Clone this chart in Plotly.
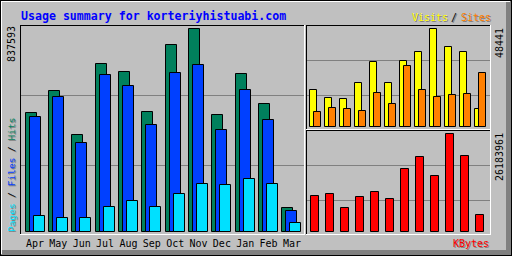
import plotly.graph_objects as go

months = ["Apr", "May", "Jun", "Jul", "Aug", "Sep", "Oct", "Nov", "Dec", "Jan", "Feb", "Mar"]
hits = [489750, 581780, 399000, 693180, 660170, 493900, 771580, 837593, 481520, 651910, 528140, 99030]
files = [473250, 557020, 365970, 647800, 602400, 440250, 656030, 689070, 420860, 585910, 462110, 86650]
pages = [64780, 56530, 56530, 101920, 127910, 101920, 156790, 198050, 193920, 218690, 198050, 37130]
visits = [18289, 14186, 13692, 21749, 32130, 21749, 32623, 37072, 48441, 39544, 37072, 8897]
sites = [7414, 9392, 8897, 7909, 16806, 11369, 30152, 18289, 14829, 15817, 16312, 26692]
kbytes = [9618600, 10153000, 6412400, 9351400, 10687300, 8817000, 16832900, 20038700, 14962300, 26183961, 20305900, 4542000]

title = "Usage summary for korteriyhistuabi.com"

C_HITS = "#00805C"
C_FILES = "#0040FF"
C_PAGES = "#00E0FF"
C_VISITS = "#FFFF00"
C_SITES = "#FF8000"
C_KB = "#FF0000"
BG = "#C0C0C0"
DK = "#808080"
MONO = "DejaVu Sans Mono"

W, H = 512, 256
def px(x):
    return x / W
def py(y):
    return 1 - y / H

max_main = max(hits)
max_vis = max(visits)
max_kb = max(kbytes)

u1 = 23.36
c1 = 35.0
k1 = max_main / 203.0
u2 = 15.0
c2 = 315.0
k2 = max_vis / 98.0
k3 = max_kb / 98.0

fig = go.Figure()

def bars(x, y, color, off_px, w_px, u, xa, ya):
    fig.add_trace(go.Bar(
        x=x, y=y, xaxis=xa, yaxis=ya,
        offset=off_px / u, width=w_px / u,
        marker=dict(color=color, line=dict(color="black", width=1)),
        hoverinfo="skip", showlegend=False))

bars(months, hits, C_HITS, -9.5, 11, u1, "x", "y")
bars(months, files, C_FILES, -5.5, 11, u1, "x", "y")
bars(months, pages, C_PAGES, -1.5, 11, u1, "x", "y")
bars(months, visits, C_VISITS, -5.5, 7, u2, "x2", "y2")
bars(months, sites, C_SITES, -1.5, 7, u2, "x2", "y2")
bars(months, kbytes, C_KB, -4.5, 8, u2, "x3", "y3")

def xax(l, r, u, c, labels, anchor):
    return dict(domain=[px(l), px(r)], range=[(l - c) / u, (r - c) / u],
                type="category", categoryorder="array", categoryarray=months,
                showgrid=False, zeroline=False, showline=False, ticks="",
                showticklabels=labels, fixedrange=True, anchor=anchor,
                ticklabelstandoff=2,
                tickfont=dict(family=MONO, size=10, color="black"))

def yax(t, b, base, k, anchor):
    return dict(domain=[py(b), py(t)], range=[(base - b) * k, (base - t) * k],
                showgrid=False, zeroline=False, showline=False, ticks="",
                showticklabels=False, fixedrange=True, anchor=anchor)

shapes = []
def line(x0, y0, x1, y1, color, w=1):
    shapes.append(dict(type="line", xref="paper", yref="paper",
                       x0=px(x0), y0=py(y0), x1=px(x1), y1=py(y1),
                       line=dict(color=color, width=w), layer="below"))
def rect(x0, y0, x1, y1, color):
    shapes.append(dict(type="rect", xref="paper", yref="paper",
                       x0=px(x0), y0=py(y0), x1=px(x1), y1=py(y1),
                       line=dict(width=0), fillcolor=color, layer="below"))

# outer 3D frame
rect(506, 1, 511, 255, DK)
rect(1, 250, 511, 255, DK)
line(1, 1.5, 510, 1.5, "white")
line(1.5, 1, 1.5, 254, "white")
line(0, 0.5, 512, 0.5, "black")
line(0.5, 0, 0.5, 256, "black")
line(0, 255.5, 512, 255.5, "black")
line(511.5, 0, 511.5, 256, "black")

# gridlines
for gy in (95.5, 165.5):
    line(21, gy, 304, gy, DK)
for gy in (60.5, 95.5):
    line(307, gy, 490, gy, DK)
for gy in (165.5, 200.5):
    line(307, gy, 490, gy, DK)

def panel(l, t, r, b):
    line(l, t + 0.5, r, t + 0.5, "black")
    line(l + 0.5, t, l + 0.5, b, "black")
    line(l, b + 0.5, r + 1, b + 0.5, "white")
    line(r + 0.5, t, r + 0.5, b + 1, "white")

panel(20, 25, 304, 234)
panel(306, 25, 490, 129)
panel(306, 130, 490, 234)

ann = []
def text(s, x, y, color, size=10, xanchor="center", yanchor="middle", angle=0, bold=False, shadow=False):
    body = s if not bold else "<b>%s</b>" % s
    if shadow:
        ann.append(dict(text=body, x=px(x + 1), y=py(y + 1),
                        xref="paper", yref="paper", showarrow=False, textangle=angle,
                        xanchor=xanchor, yanchor=yanchor, borderpad=0,
                        font=dict(family=MONO, size=size, color=DK)))
    ann.append(dict(text=body, x=px(x), y=py(y),
                    xref="paper", yref="paper", showarrow=False, textangle=angle,
                    xanchor=xanchor, yanchor=yanchor, borderpad=0,
                    font=dict(family=MONO, size=size, color=color)))

text(title, 20, 15.5, "#0000FF", size=11.6, xanchor="left", bold=True)
text("Visits", 448.5, 17.5, C_VISITS, xanchor="right", shadow=True)
text("/", 454, 17.5, "black", shadow=True)
text("Sites", 459.5, 17.5, C_SITES, xanchor="left", shadow=True)
text("KBytes", 490, 243, C_KB, xanchor="right", shadow=True)

text(str(max_main), 11, 25, "black", xanchor="center", yanchor="top", angle=-90)
text(str(max_vis), 499, 27, "black", xanchor="center", yanchor="top", angle=-90)
text(str(max_kb), 499, 132, "black", xanchor="center", yanchor="top", angle=-90)

ylab = ('<span style="color:%s">Pages</span> / <span style="color:%s">Files</span> / '
        '<span style="color:%s">Hits</span>') % (C_PAGES, C_FILES, C_HITS)
ylab_sh = "Pages / Files / Hits"
ann.append(dict(text=ylab_sh, x=px(12), y=py(234), xref="paper", yref="paper", showarrow=False,
                textangle=-90, xanchor="center", yanchor="bottom", borderpad=0,
                font=dict(family=MONO, size=9.5, color=DK)))
ann.append(dict(text=ylab, x=px(11), y=py(233), xref="paper", yref="paper", showarrow=False,
                textangle=-90, xanchor="center", yanchor="bottom", borderpad=0,
                font=dict(family=MONO, size=9.5, color="black")))

fig.update_layout(
    width=W, height=H, margin=dict(l=0, r=0, t=0, b=0),
    paper_bgcolor=BG, plot_bgcolor="rgba(0,0,0,0)",
    barmode="overlay", bargap=0,
    xaxis=xax(20, 305, u1, c1, True, "y"),
    yaxis=yax(25, 234, 232, k1, "x"),
    xaxis2=xax(306, 491, u2, c2, False, "y2"),
    yaxis2=yax(25, 129, 127, k2, "x2"),
    xaxis3=xax(306, 491, u2, c2, False, "y3"),
    yaxis3=yax(130, 234, 232, k3, "x3"),
    shapes=shapes, annotations=ann, showlegend=False,
)

fig.write_html("out.html", config={"displayModeBar": False})
